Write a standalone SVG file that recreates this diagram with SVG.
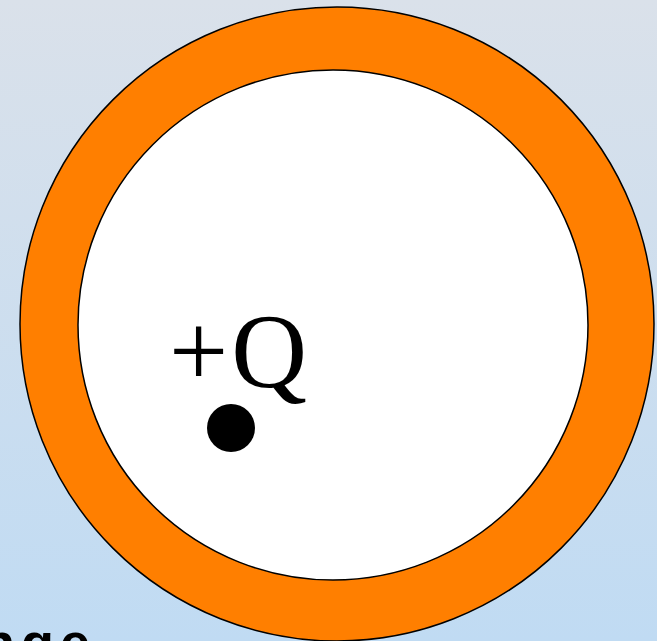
<svg xmlns="http://www.w3.org/2000/svg" width="657" height="641" viewBox="0 0 657 641">
  <defs>
    <linearGradient id="bg" x1="0" y1="0" x2="0" y2="1">
      <stop offset="0" stop-color="#DAE1EA"/>
      <stop offset="1" stop-color="#C0DBF3"/>
    </linearGradient>
    <style>
      .ring { fill: #FF7F00; stroke: #000; stroke-width: 1.5; }
      .cavity { fill: #FFFFFF; stroke: #000; stroke-width: 1.5; }
      .label { font-family: "Liberation Serif", "Times New Roman", serif; font-size: 105px; fill: #000; }
      .title { font-family: "Liberation Sans", Arial, sans-serif; font-weight: bold; font-size: 54px; letter-spacing: 6px; fill: #000; }
    </style>
  </defs>
  <rect x="0" y="0" width="657" height="641" fill="url(#bg)"/>
  <g id="shell">
    <circle class="ring" cx="337" cy="324" r="317"/>
  </g>
  <g id="cavity">
    <circle class="cavity" cx="333" cy="325" r="255"/>
  </g>
  <g id="charge">
    <circle cx="231" cy="428" r="24" fill="#000"/>
    <text class="label" x="169" y="387" letter-spacing="3">+Q</text>
  </g>
  <text class="title" x="-18" y="661">nge</text>
</svg>
